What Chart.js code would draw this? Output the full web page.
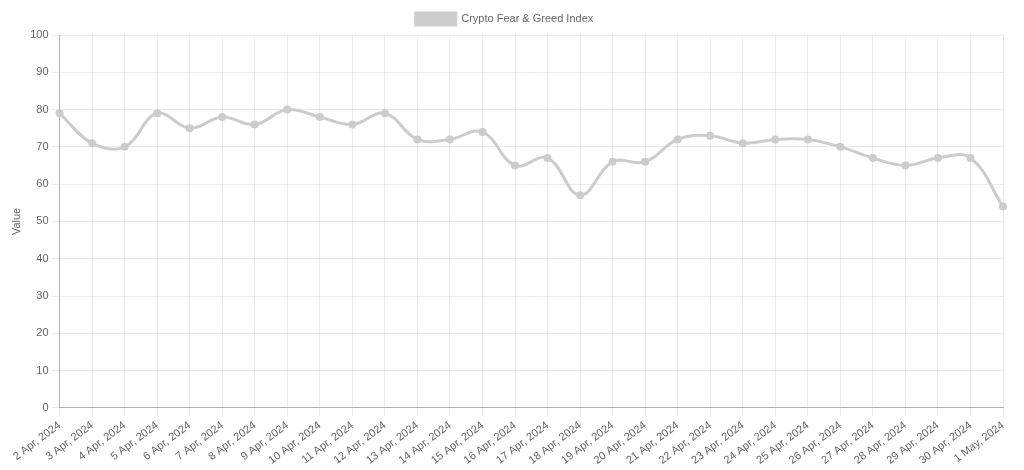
<!DOCTYPE html>
<html>
<head>
<meta charset="utf-8">
<script src="https://cdn.jsdelivr.net/npm/chart.js@4"></script>
<style>
html,body{margin:0;padding:0;background:#fff;}
#wrap{width:1024px;height:470px;}
</style>
</head>
<body>
<div id="wrap"><canvas id="c" width="1024" height="470"></canvas></div>
<script>
const labels = ["2 Apr, 2024","3 Apr, 2024","4 Apr, 2024","5 Apr, 2024","6 Apr, 2024","7 Apr, 2024","8 Apr, 2024","9 Apr, 2024","10 Apr, 2024","11 Apr, 2024","12 Apr, 2024","13 Apr, 2024","14 Apr, 2024","15 Apr, 2024","16 Apr, 2024","17 Apr, 2024","18 Apr, 2024","19 Apr, 2024","20 Apr, 2024","21 Apr, 2024","22 Apr, 2024","23 Apr, 2024","24 Apr, 2024","25 Apr, 2024","26 Apr, 2024","27 Apr, 2024","28 Apr, 2024","29 Apr, 2024","30 Apr, 2024","1 May, 2024"];
const values = [79,71,70,79,75,78,76,80,78,76,79,72,72,74,65,67,57,66,66,72,73,71,72,72,70,67,65,67,67,54];
const seriesName = "Crypto Fear & Greed Index";
const yTitle = "Value";

Chart.defaults.font.size = 11;
Chart.defaults.font.family = "Arial, 'Liberation Sans', Helvetica, sans-serif";

new Chart(document.getElementById('c'), {
  type: 'line',
  data: {
    labels: labels,
    datasets: [{
      label: seriesName,
      data: values,
      borderColor: 'rgb(204,204,204)',
      backgroundColor: 'rgb(204,204,204)',
      borderWidth: 3,
      pointRadius: 2.5,
      tension: 0.4,
      fill: false
    }]
  },
  options: {
    responsive: false,
    animation: false,
    layout: { padding: { top: 3, left: 6, right: 21, bottom: 0 } },
    plugins: {
      legend: { display: true, labels: { color: '#666', boxHeight: 12 } },
      tooltip: { enabled: false }
    },
    scales: {
      x: {
        ticks: { color: '#666', autoSkip: false, minRotation: 37, maxRotation: 37 },
        grid: { color: 'rgba(0,0,0,0.08)' },
        border: { color: 'rgba(0,0,0,0.25)' }
      },
      y: {
        min: 0, max: 100,
        ticks: { stepSize: 10, color: '#666' },
        title: { display: true, text: yTitle, color: '#666' },
        grid: { color: 'rgba(0,0,0,0.08)' },
        border: { color: 'rgba(0,0,0,0.25)' }
      }
    }
  }
});
</script>
</body>
</html>
